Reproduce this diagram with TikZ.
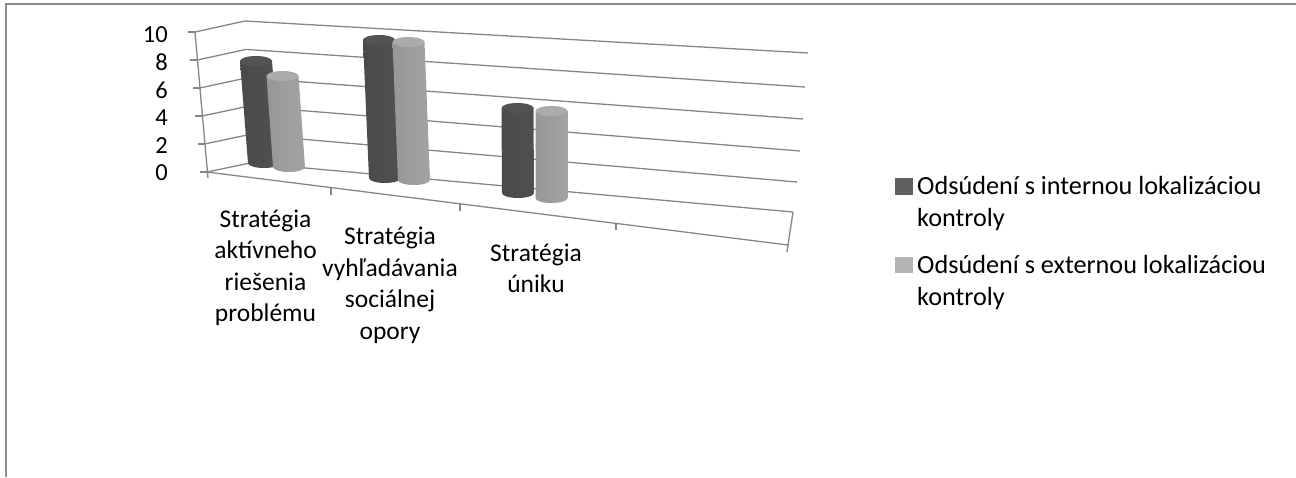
\documentclass[tikz,border=0pt]{standalone}
\usepackage{fontspec}
\setmainfont{Carlito}
\definecolor{gridc}{HTML}{868686}
\definecolor{framec}{HTML}{8C8C8C}
\definecolor{darkL}{HTML}{4A4A4A}
\definecolor{darkM}{HTML}{6E6E6E}
\definecolor{darkR}{HTML}{505050}
\definecolor{darkT}{HTML}{535353}
\definecolor{lightL}{HTML}{979797}
\definecolor{lightM}{HTML}{C3C3C3}
\definecolor{lightR}{HTML}{A3A3A3}
\definecolor{lightT}{HTML}{ABABAB}
\definecolor{legdark}{HTML}{606060}
\definecolor{leglight}{HTML}{B4B4B4}
\newcommand\mycyl[8]{%
  \shade[left color=#5, middle color=#6, right color=#7]
    (#1-16,#2) -- (#3-16,#4) arc[start angle=180,end angle=0,x radius=16,y radius=5] -- (#1+16,#2) -- cycle;
  \fill[#8] (#1,#2) ellipse[x radius=16,y radius=5];}
\begin{document}
\begin{tikzpicture}[x=1pt,y=-1pt,
  grid/.style={draw=gridc, line width=1.3pt},
  lab/.style={font=\fontsize{25.5}{31.5}\selectfont, inner sep=0pt, align=center},
  leg/.style={font=\fontsize{26.2}{32}\selectfont, inner sep=0pt, align=left, anchor=base west},
  ylab/.style={font=\fontsize{24.5}{28}\selectfont, inner sep=0pt, anchor=base east}]
\useasboundingbox (0,0) rectangle (1296,477);
% frame
\draw[framec, line width=1.6pt] (6,477) -- (6,4) -- (1296,4);
% coordinates
\coordinate (F0) at (207,172); \coordinate (B0) at (250,163); \coordinate (R0) at (793,212);
\coordinate (F1) at (204.6,144); \coordinate (B1) at (249,134.6); \coordinate (R1) at (797,182);
\coordinate (F2) at (202.2,116); \coordinate (B2) at (248,106.2); \coordinate (R2) at (800,151);
\coordinate (F3) at (199.8,88); \coordinate (B3) at (247,77.8); \coordinate (R3) at (803,119);
\coordinate (F4) at (197.4,60); \coordinate (B4) at (246,49.4); \coordinate (R4) at (805,87);
\coordinate (F5) at (195,32); \coordinate (B5) at (245,21); \coordinate (R5) at (808,53);
\coordinate (C) at (788,245);
% gridlines
\foreach \k in {0,...,5}{
  \draw[grid] (F\k) -- (B\k) -- (R\k);
  \draw[grid] (F\k) -- ++(-7,0);
}
\draw[grid] (F5) -- (208,178);
\draw[grid] (F0) -- (C) -- (R0);
\draw[grid] (C) -- (787,252);
\draw[grid] (331,187.6) -- (331,194.6);
\draw[grid] (460,203.8) -- (460,210.8);
\draw[grid] (616,223.4) -- (616,230.4);
% cylinders
\mycyl{256}{61}{264}{163}{darkL}{darkM}{darkR}{darkT}
\mycyl{282.5}{76}{289}{167}{lightL}{lightM}{lightR}{lightT}
\mycyl{379}{40}{385}{178}{darkL}{darkM}{darkR}{darkT}
\mycyl{408.5}{42}{414}{180}{lightL}{lightM}{lightR}{lightT}
\mycyl{517.5}{108}{518}{193}{darkL}{darkM}{darkR}{darkT}
\mycyl{551.5}{111}{551.5}{198}{lightL}{lightM}{lightR}{lightT}
% y labels
\node[ylab] (y10) at (168,42) {10};
\node[ylab] (y8) at (168,70) {8};
\node[ylab] (y6) at (168,98) {6};
\node[ylab] (y4) at (168,125) {4};
\node[ylab] (y2) at (168,153) {2};
\node[ylab] (y0) at (168,180) {0};
% category labels (anchor = baseline of last line)
\node[lab, anchor=base] (c1) at (265.5,321.7) {Stratégia\\aktívneho\\riešenia\\problému};
\node[lab, anchor=base] (c2) at (390,339) {Stratégia\\vyhľadávania\\sociálnej\\opory};
\node[lab, anchor=base] (c3) at (536,292.7) {Stratégia\\úniku};
% legend
\fill[legdark] (895,178) rectangle (913,195);
\fill[leglight] (895,257) rectangle (913,273);
\node[leg] (l1) at (917,226.7) {Odsúdení s internou lokalizáciou\\kontroly};
\node[leg] (l2) at (917,305) {Odsúdení s externou lokalizáciou\\kontroly};
\end{tikzpicture}
\end{document}
